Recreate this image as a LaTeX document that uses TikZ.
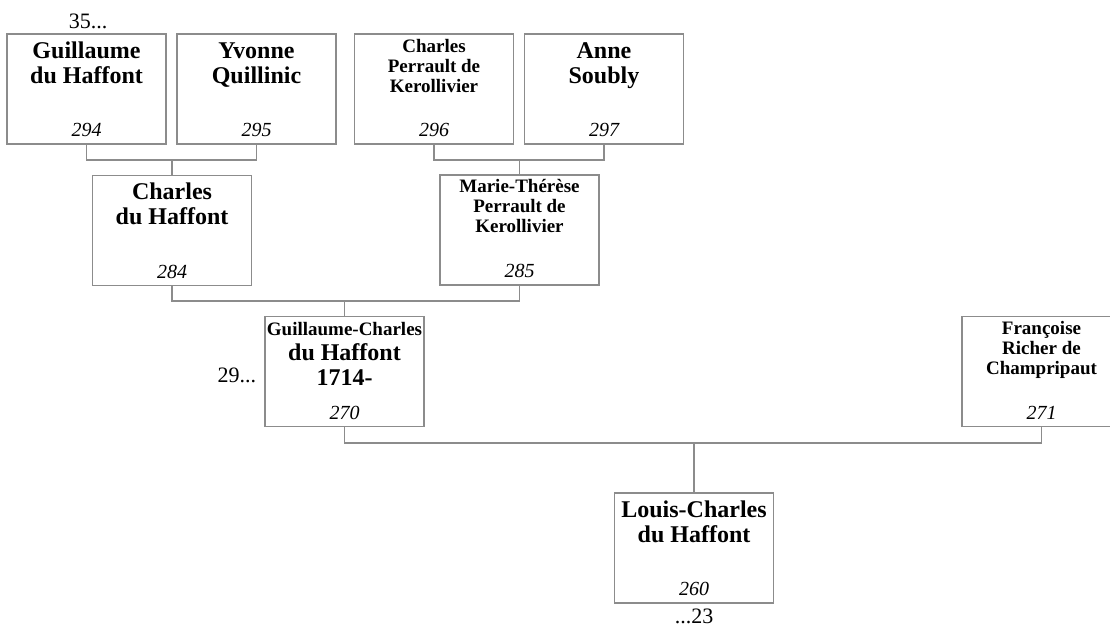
\documentclass[tikz,border=0pt]{standalone}
\usepackage{fontspec}
\setmainfont{Liberation Serif}
\usepackage{tikz}
\usetikzlibrary{calc}

\definecolor{cadre}{RGB}{140,140,140}
\newcommand{\grandnom}{\fontsize{24}{25}\selectfont\bfseries}
\newcommand{\petitnom}{\fontsize{19}{20}\selectfont\bfseries}

\begin{document}
\begin{tikzpicture}[x=1pt, y=-1pt,
    boite/.style={draw=cadre, line width=1.2pt, minimum width=159pt, minimum height=110pt, inner sep=0pt},
    nom/.style={anchor=base, align=center, inner sep=0pt, font=\grandnom},
    num/.style={anchor=base, inner sep=0pt, font=\fontsize{20}{20}\selectfont\itshape},
    renvoi/.style={inner sep=0pt, font=\fontsize{22}{22}\selectfont},
    lien/.style={draw=cadre, line width=1.2pt}]
        \useasboundingbox (0,0) rectangle (1110,630);

        % Boites
        \foreach \id/\x/\y in {294/86.5/89, 295/256.5/89, 296/434/89, 297/604/89,
                               284/172/230.5, 285/519.5/230, 270/344.5/371.5,
                               271/1041.5/371.5, 260/694/548}
            \node[boite] (p\id) at (\x,\y) {};

        % Noms (base = derniere ligne)
        \node[nom] (n294) at ($(p294.north)+(0,50)$) {Guillaume\\du Haffont};
        \node[nom] (n295) at ($(p295.north)+(0,50)$) {Yvonne\\Quillinic};
        \node[nom, font=\petitnom] (n296) at ($(p296.north)+(0,59)$) {Charles\\Perrault de\\Kerollivier};
        \node[nom] (n297) at ($(p297.north)+(0,50)$) {Anne\\Soubly};
        \node[nom] (n284) at ($(p284.north)+(0,50)$) {Charles\\du Haffont};
        \node[nom, font=\petitnom] (n285) at ($(p285.north)+(0,58)$) {Marie-Thérèse\\Perrault de\\Kerollivier};
        \node[nom] (n270) at ($(p270.north)+(0,70)$) {{\petitnom Guillaume-Charles}\\du Haffont\\1714-};
        \node[nom, font=\petitnom] (n271) at ($(p271.north)+(0,59)$) {Françoise\\Richer de\\Champripaut};
        \node[nom] (n260) at ($(p260.north)+(0,50)$) {Louis-Charles\\du Haffont};

        % Numeros
        \foreach \id in {294,295,296,297,284,285,270,271,260}
            \node[num] (u\id) at ($(p\id.south)+(0,-8)$) {\id};

        % Renvois
        \node[renvoi, anchor=base] (r35) at ($(p294.north)+(1.5,-5)$) {35...};
        \node[renvoi, anchor=base east] (r29) at ($(p270.west)+(-8,10.5)$) {29...};
        \node[renvoi, anchor=base] (r23) at ($(p260.south)+(0,20)$) {...23};

        % Liens
        \coordinate (m1) at (p284.north |- 0,160);
        \coordinate (m2) at (p285.north |- 0,160);
        \coordinate (m3) at (p270.north |- 0,301);
        \coordinate (m4) at (p260.north |- 0,443);

        \draw[lien] (p294.south) |- (m1) -| (p295.south);
        \draw[lien] (m1) -- (p284.north);
        \draw[lien] (p296.south) |- (m2) -| (p297.south);
        \draw[lien] (m2) -- (p285.north);
        \draw[lien] (p284.south) |- (m3) -| (p285.south);
        \draw[lien] (m3) -- (p270.north);
        \draw[lien] (p270.south) |- (m4) -| (p271.south);
        \draw[lien] (m4) -- (p260.north);
    \end{tikzpicture}
\end{document}
